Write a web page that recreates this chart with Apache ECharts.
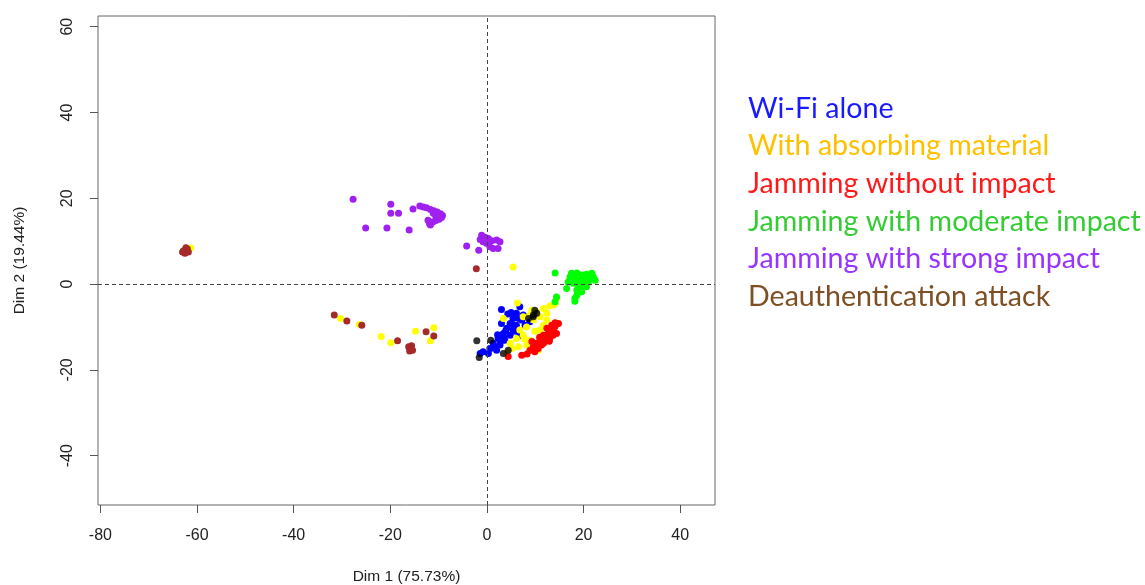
<!DOCTYPE html>
<html>
<head>
<meta charset="utf-8">
<script src="https://cdn.jsdelivr.net/npm/echarts@6/dist/echarts.min.js"></script>
<style>
  html, body { margin: 0; padding: 0; background: #fff; }
  #chart { width: 1145px; height: 585px; }
</style>
</head>
<body>
<div id="chart"></div>
<script>
// PCA individuals (Dim 1, Dim 2)
var groupNames = ["Wi-Fi alone", "With absorbing material", "Jamming without impact",
    "Jamming with moderate impact", "Jamming with strong impact", "Deauthentication attack"];

var xTicks = [-80, -60, -40, -20, 0, 20, 40];
var yTicks = [-40, -20, 0, 20, 40, 60];

var wifiAlone = [
    [3.0, -5.9], [6.1, -6.8], [7.5, -7.2], [5.4, -8.0], [7.2, -8.4], [4.8, -9.2], [6.1, -9.6],
    [4.1, -10.3], [5.4, -10.7], [3.4, -11.5], [4.8, -11.9], [2.3, -12.7], [3.7, -13.1],
    [1.3, -13.8], [2.7, -14.2], [0.6, -15.0], [-0.8, -15.8], [-1.4, -16.2], [0.3, -16.2],
    [2.0, -15.4], [6.8, -5.3], [3.0, -9.2], [7.9, -9.6], [8.9, -8.8], [6.8, -11.9], [1.7, -14.6],
    [4.3, -7.0], [5.8, -11.0], [3.5, -12.4], [2.2, -11.8], [6.6, -8.0], [1.0, -14.9], [5.0, -6.6],
    [3.9, -10.8], [2.8, -13.4], [5.2, -9.4]
];

var absorbing = [
    [-61.3, 8.4], [-30.3, -8.0], [-26.4, -9.4], [-21.9, -12.2], [-19.9, -13.7], [-14.8, -11.0],
    [-11.0, -10.2], [-11.7, -13.2], [5.4, 4.0], [6.3, -4.4], [3.4, -8.0], [11.7, -5.7],
    [13.0, -5.1], [14.1, -4.5], [14.4, -3.3], [12.4, -6.8], [11.0, -7.6], [9.6, -8.4], [8.9, -7.2],
    [8.2, -10.0], [6.8, -10.7], [7.5, -11.9], [6.1, -12.7], [4.8, -13.8], [5.1, -15.0],
    [6.5, -14.6], [8.9, -13.1], [8.2, -14.2], [11.0, -10.7], [11.7, -9.6], [12.4, -8.4],
    [10.3, -6.5], [9.3, -6.1], [7.5, -7.6], [9.7, -14.6], [10.6, -15.4], [4.1, -16.2],
    [13.7, -4.9], [7.8, -12.8], [9.9, -11.0]
];

var noImpact = [
    [14.1, -9.0], [13.4, -9.6], [12.4, -10.3], [13.7, -10.7], [14.4, -11.5], [12.7, -11.5],
    [11.7, -11.9], [13.0, -12.7], [11.0, -13.1], [12.0, -13.4], [10.3, -13.8], [11.3, -14.2],
    [9.6, -14.6], [10.6, -15.0], [8.9, -15.4], [9.9, -15.8], [8.3, -16.3], [7.2, -16.6],
    [4.4, -16.9], [13.7, -11.9], [14.1, -9.9], [14.8, -9.2], [12.4, -12.3], [11.7, -13.8],
    [9.3, -13.4], [13.2, -11.0], [12.9, -13.3], [10.9, -12.4]
];

var moderate = [
    [17.5, 2.5], [18.6, 2.6], [19.6, 2.1], [20.6, 2.3], [21.7, 2.5], [22.0, 1.7], [21.3, 1.3],
    [20.3, 1.1], [19.3, 0.9], [18.2, 1.3], [17.2, 1.7], [16.8, 0.5], [17.9, 0.2], [18.9, -0.2],
    [19.9, 0.2], [21.0, 0.5], [19.3, -1.0], [18.6, -1.4], [19.6, -1.8], [18.6, -2.6],
    [18.2, -3.3], [16.5, -1.0], [14.1, 2.6], [14.4, -3.0], [22.4, 0.9], [20.6, -0.6],
    [14.1, -4.1], [18.2, -4.0], [20.0, 1.6], [18.9, 0.6]
];

var strong = [
    [-27.7, 19.8], [-19.9, 18.6], [-19.9, 16.5], [-18.3, 16.5], [-15.3, 17.5], [-25.1, 13.1],
    [-20.7, 13.1], [-16.1, 12.6], [-13.9, 18.2], [-13.2, 18.0], [-12.5, 17.8], [-11.7, 17.4],
    [-11.0, 17.1], [-10.3, 16.8], [-9.6, 16.4], [-9.2, 16.0], [-9.4, 15.5], [-9.9, 15.1],
    [-10.6, 14.8], [-11.2, 14.5], [-11.9, 14.1], [-11.7, 13.8], [-10.6, 15.9], [-11.1, 16.5],
    [-10.1, 16.1], [-12.2, 14.9], [-1.1, 11.4], [-0.4, 10.9], [0.3, 10.6], [-1.4, 10.4],
    [1.0, 10.1], [2.0, 10.3], [2.7, 9.9], [-0.1, 9.5], [0.6, 8.7], [1.3, 8.3], [2.3, 8.3],
    [-0.8, 9.9], [-4.2, 8.9], [-1.7, 7.9]
];

var deauth = [
    [-62.8, 7.8], [-62.0, 8.2], [-62.5, 7.2], [-61.8, 7.5], [-62.3, 8.5], [-63.0, 7.5],
    [-31.6, -7.2], [-29.0, -8.6], [-25.9, -9.6], [-18.5, -13.2], [-12.6, -11.1], [-11.0, -12.1],
    [-15.9, -15.0], [-16.2, -14.6], [-15.6, -14.4], [-15.4, -15.4], [-16.0, -15.6],
    [-2.2, 3.6]
];

var unlabelled = [
    [-2.1, -13.2], [0.8, -13.1], [-1.6, -17.1], [9.9, -6.1], [10.3, -6.8], [9.6, -7.2],
    [8.6, -8.0], [3.4, -16.2], [4.4, -15.4], [9.6, -7.6]
];

var pointColors = ["#0000ff", "#ffff00", "#ff0000", "#00ff00", "#a020f0", "#a52a2a"];
var legendColors = ["#1a1aff", "#ffc000", "#ff1a1a", "#33cc33", "#9933ff", "#7f4f24"];
var groups = [wifiAlone, absorbing, noImpact, moderate, strong, deauth];

var chart = echarts.init(document.getElementById('chart'), null, { renderer: 'canvas' });

var series = groups.map(function (pts, i) {
    return {
        name: groupNames[i],
        type: 'scatter',
        symbolSize: 7,
        itemStyle: { color: pointColors[i], opacity: 1 },
        data: pts,
        silent: true
    };
});
series.push({
    name: 'other',
    type: 'scatter',
    symbolSize: 7,
    itemStyle: { color: '#000' },
    data: unlabelled,
    silent: true,
    markLine: {
        silent: true,
        symbol: 'none',
        label: { show: false },
        lineStyle: { color: '#444', type: [4, 3], width: 1 },
        data: [{ xAxis: 0 }, { yAxis: 0 }]
    }
});

var tickFont = { fontFamily: 'Liberation Sans', fontSize: 16, color: '#222' };

chart.setOption({
    animation: false,
    grid: {
        left: 98, right: 430, top: 16, bottom: 80,
        outerBoundsMode: 'none',
        show: true, borderColor: '#666', borderWidth: 1, backgroundColor: 'transparent'
    },
    legend: {
        orient: 'vertical',
        left: 738,
        top: 89,
        icon: 'none',
        itemWidth: 0,
        itemHeight: 28.6,
        itemGap: 8.6,
        selectedMode: false,
        textStyle: { fontFamily: 'Lato', fontSize: 28.6 },
        data: groupNames.map(function (n, i) {
            return { name: n, textStyle: { color: legendColors[i] } };
        })
    },
    xAxis: {
        type: 'value',
        min: -80.5, max: 47.2,
        name: 'Dim 1 (75.73%)',
        nameLocation: 'middle',
        nameGap: 64,
        nameTextStyle: { fontFamily: 'Liberation Sans', fontSize: 15.5, color: '#222' },
        axisLine: { show: false, onZero: false },
        splitLine: { show: false },
        axisTick: { show: true, length: 8, customValues: xTicks, lineStyle: { color: '#555' } },
        axisLabel: Object.assign({ margin: 23, customValues: xTicks }, tickFont)
    },
    yAxis: {
        type: 'value',
        min: -51.5, max: 62.5,
        name: 'Dim 2 (19.44%)',
        nameLocation: 'middle',
        nameRotate: 90,
        nameGap: 70,
        nameTextStyle: { fontFamily: 'Liberation Sans', fontSize: 15.5, color: '#222' },
        axisLine: { show: false, onZero: false },
        splitLine: { show: false },
        axisTick: { show: true, length: 8, customValues: yTicks, lineStyle: { color: '#555' } },
        axisLabel: Object.assign({ margin: 22, rotate: 90, customValues: yTicks }, tickFont)
    },
    series: series
});
</script>
</body>
</html>
